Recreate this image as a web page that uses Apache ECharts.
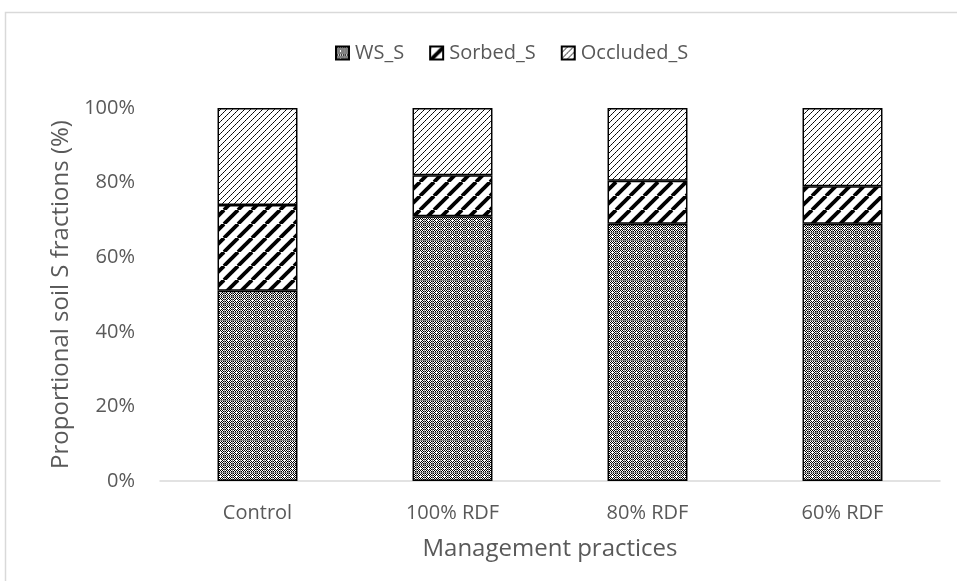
<!DOCTYPE html>
<html>
<head>
<meta charset="utf-8">
<script src="https://cdn.jsdelivr.net/npm/echarts@6/dist/echarts.min.js"></script>
<style>
  html, body { margin: 0; padding: 0; background: #fff; }
  #chart { width: 957px; height: 581px; }
</style>
</head>
<body>
<div id="chart"></div>
<script>
// Share of each soil sulphur fraction per management practice (%)
const categories = ['Control', '100% RDF', '80% RDF', '60% RDF'];
const wsS = [51, 71, 69, 69];
const sorbedS = [23, 11, 11.5, 10];
const occludedS = [26, 18, 19.5, 21];
const yTicks = [0, 20, 40, 60, 80, 100];

// Fill patterns drawn on small canvases and tiled by the renderer
function makeTile(size, draw) {
  const c = document.createElement('canvas');
  c.width = size; c.height = size;
  const ctx = c.getContext('2d');
  ctx.fillStyle = '#fff';
  ctx.fillRect(0, 0, size, size);
  draw(ctx, size);
  return c;
}

// fine checker with white specks
const checkerTile = makeTile(8, (ctx, s) => {
  for (let y = 0; y < s; y++) {
    for (let x = 0; x < s; x++) {
      if ((x + y) % 2 === 0) { ctx.fillStyle = '#000'; ctx.fillRect(x, y, 1, 1); }
    }
  }
  ctx.fillStyle = '#888';
  ctx.fillRect(0, 0, s, 1);
  ctx.fillRect(0, 0, 1, s);
  ctx.fillStyle = '#fff';
  ctx.fillRect(4, 3, 1, 3);
  ctx.fillRect(3, 4, 3, 1);
});

// wide diagonal stripes
const wideStripeTile = makeTile(14, (ctx, s) => {
  ctx.strokeStyle = '#000';
  ctx.lineWidth = 3.8;
  for (let k = -1; k <= 1; k++) {
    ctx.beginPath();
    ctx.moveTo(k * s, s);
    ctx.lineTo(k * s + s, 0);
    ctx.stroke();
  }
});

// thin dotted diagonal lines
const thinStripeTile = makeTile(6, (ctx, s) => {
  for (let i = 0; i < s; i++) {
    const x = (s - 1 - i);
    ctx.fillStyle = i % 2 === 0 ? '#000' : '#333';
    ctx.fillRect(x, i, 1, 1);
  }
});

function pattern(tile) { return { image: tile, repeat: 'repeat' }; }

const barStyle = (tile) => ({
  color: pattern(tile),
  borderColor: '#000',
  borderWidth: 1.5
});

const font = 'Open Sans, Noto Sans, sans-serif';
const grey = '#595959';

const chart = echarts.init(document.getElementById('chart'), null, { renderer: 'canvas' });
chart.setOption({
  backgroundColor: '#fff',
  animation: false,
  graphic: [{
    type: 'rect',
    shape: { x: 5.5, y: 12.5, width: 1000, height: 1000 },
    style: { fill: 'none', stroke: '#d9d9d9', lineWidth: 1.5 },
    silent: true
  }],
  legend: {
    top: 38,
    left: 330,
    itemWidth: 13,
    itemHeight: 13,
    itemGap: 25,
    icon: 'rect',
    textStyle: { color: grey, fontSize: 20, fontFamily: font, padding: [0, 0, 0, 1] },
    data: ['WS_S', 'Sorbed_S', 'Occluded_S']
  },
  grid: { left: 160, right: 17, top: 108, bottom: 100, containLabel: false },
  xAxis: {
    type: 'category',
    data: categories,
    name: 'Management practices',
    nameLocation: 'middle',
    nameGap: 56,
    nameTextStyle: { color: grey, fontSize: 24, fontFamily: font },
    axisLine: { lineStyle: { color: '#d9d9d9', width: 1.5 } },
    axisTick: { show: false },
    axisLabel: { color: grey, fontSize: 20, fontFamily: font, margin: 22 }
  },
  yAxis: {
    type: 'value',
    min: yTicks[0],
    max: yTicks[yTicks.length - 1],
    interval: yTicks[1] - yTicks[0],
    name: 'Proportional soil S fractions (%)',
    nameLocation: 'middle',
    nameGap: 86,
    nameTextStyle: { color: grey, fontSize: 24, fontFamily: font },
    axisLine: { show: false },
    axisTick: { show: false },
    splitLine: { show: false },
    axisLabel: { color: grey, fontSize: 20, fontFamily: font, margin: 25, formatter: '{value}%' }
  },
  series: [
    { name: 'WS_S', type: 'bar', stack: 's', barWidth: '41%', data: wsS, itemStyle: barStyle(checkerTile) },
    { name: 'Sorbed_S', type: 'bar', stack: 's', barWidth: '41%', data: sorbedS, itemStyle: barStyle(wideStripeTile) },
    { name: 'Occluded_S', type: 'bar', stack: 's', barWidth: '41%', data: occludedS, itemStyle: barStyle(thinStripeTile) }
  ]
});
</script>
</body>
</html>
